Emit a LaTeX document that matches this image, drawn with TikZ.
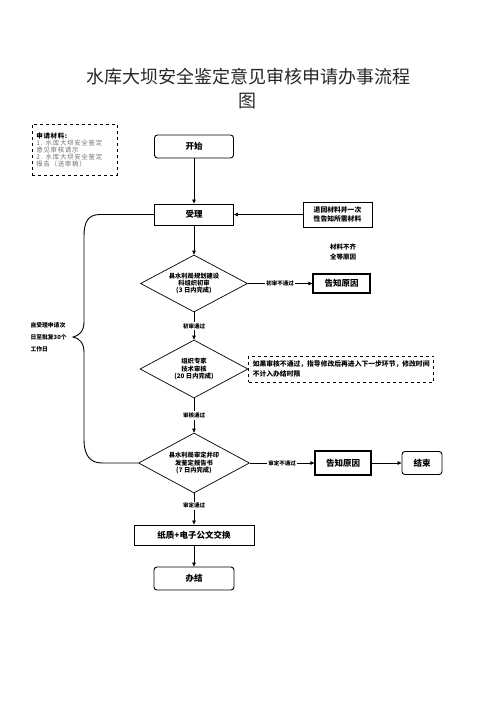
\documentclass[tikz,border=0pt]{standalone}
\usepackage{fontspec}
\newfontfamily\cjk{Noto Sans CJK SC}
\usetikzlibrary{shapes.geometric,arrows.meta}
\begin{document}
\begin{tikzpicture}[x=1pt,y=-1pt,
  every node/.style={font=\cjk},
  fbox/.style={draw, line width=0.9pt, inner sep=0pt, font=\cjk\bfseries\fontsize{8.5}{10}\selectfont},
  rfbox/.style={fbox, rounded corners=3pt},
  tbox/.style={fbox, line width=1.2pt},
  dia/.style={draw, diamond, aspect=1.86, line width=0.7pt, inner sep=0pt, align=center, font=\cjk\bfseries\fontsize{6.3}{7.3}\selectfont},
  lbl/.style={fill=white, inner sep=1.5pt, font=\cjk\bfseries\fontsize{5.5}{6.5}\selectfont},
  arr/.style={-{Triangle[length=4pt,width=3.5pt]}, line width=0.7pt},
  dbox/.style={draw, dashed, line width=0.8pt, inner xsep=4pt, align=left},
]
\useasboundingbox (0,0) rectangle (496,702);

\node[font=\cjk\fontsize{18}{24}\selectfont, align=center, text=black!85] (title) at (248,89) {水库大坝安全鉴定意见审核申请办事流程\\图};

\node[dbox, anchor=north west, minimum width=85pt, minimum height=51pt, text width=77pt, text=black!55, font=\cjk\fontsize{6.5}{7}\selectfont\addfontfeature{LetterSpace=10}] (mat) at (32,124) {\textcolor{black}{\bfseries 申请材料:}\\1. 水库大坝安全鉴定\\意见审核请示\\2. 水库大坝安全鉴定\\报告（送审稿）};

\node[rfbox, minimum width=79pt, minimum height=23pt] (start) at (194,146.5) {开始};
\node[fbox, minimum width=79pt, minimum height=21pt] (accept) at (194,214.5) {受理};
\node[fbox, minimum width=69pt, minimum height=25pt, align=center, font=\cjk\bfseries\fontsize{6.8}{9}\selectfont] (ret) at (337.5,214.5) {退回材料并一次\\性告知所需材料};

\node[dia, minimum width=107pt, minimum height=57pt] (d1) at (194,283.5) {县水利局规划建设\\科组织初审\\(3 日内完成)};
\node[tbox, minimum width=57pt, minimum height=19pt] (tell1) at (341.5,283.5) {告知原因};
\node[align=center, font=\cjk\bfseries\fontsize{6.5}{10}\selectfont] (why) at (343,252) {材料不齐\\全等原因};

\node[dia, minimum width=108pt, minimum height=58pt] (d2) at (194,369) {组织专家\\技术审核\\(20 日内完成)};
\node[dbox, anchor=west, text width=177pt, minimum height=26pt, font=\cjk\bfseries\fontsize{6.8}{10}\selectfont] (note) at (d2.east) {如果审核不通过，指导修改后再进入下一步环节，修改时间\\不计入办结时限};

\node[dia, minimum width=111pt, minimum height=60pt] (d3) at (194,463) {县水利局审定并印\\发鉴定报告书\\(7 日内完成)};
\node[tbox, minimum width=56pt, minimum height=24pt] (tell2) at (343,463) {告知原因};
\node[rfbox, minimum width=40pt, minimum height=23pt] (end) at (422,463) {结束};

\node[fbox, minimum width=120pt, minimum height=20pt] (paper) at (194,535) {纸质+电子公文交换};
\node[rfbox, minimum width=80pt, minimum height=23pt] (done) at (194,578.5) {办结};

\node[align=left, anchor=west, font=\cjk\bfseries\fontsize{5.8}{12}\selectfont] (span) at (27,337) {自受理申请次\\日至批复30个\\工作日};

\draw[arr] (start) -- (accept);
\draw[arr] (ret) -- (accept);
\draw[arr] (accept) -- (d1);
\draw[arr] (d1) -- node[lbl]{初审不通过} (tell1);
\draw[arr] (d1) -- node[lbl]{初审通过} (d2);
\draw[arr] (d2) -- node[lbl]{审核通过} (d3);
\draw[arr] (d3) -- node[lbl]{审定不通过} (tell2);
\draw[arr] (tell2) -- (end);
\draw[arr] (d3) -- node[lbl, pos=0.4]{审定通过} (paper);
\draw[arr] (paper) -- (done);

\draw[line width=0.9pt] (accept.west) -- (100,214.5) .. controls (88,214.5) and (84,222) .. (84,236) -- (84,322) .. controls (84,331) and (79,336) .. (73,337) .. controls (79,338) and (84,343) .. (84,352) -- (84,440) .. controls (84,455) and (90,463) .. (102,463) -- (d3.west);
\end{tikzpicture}
\end{document}
